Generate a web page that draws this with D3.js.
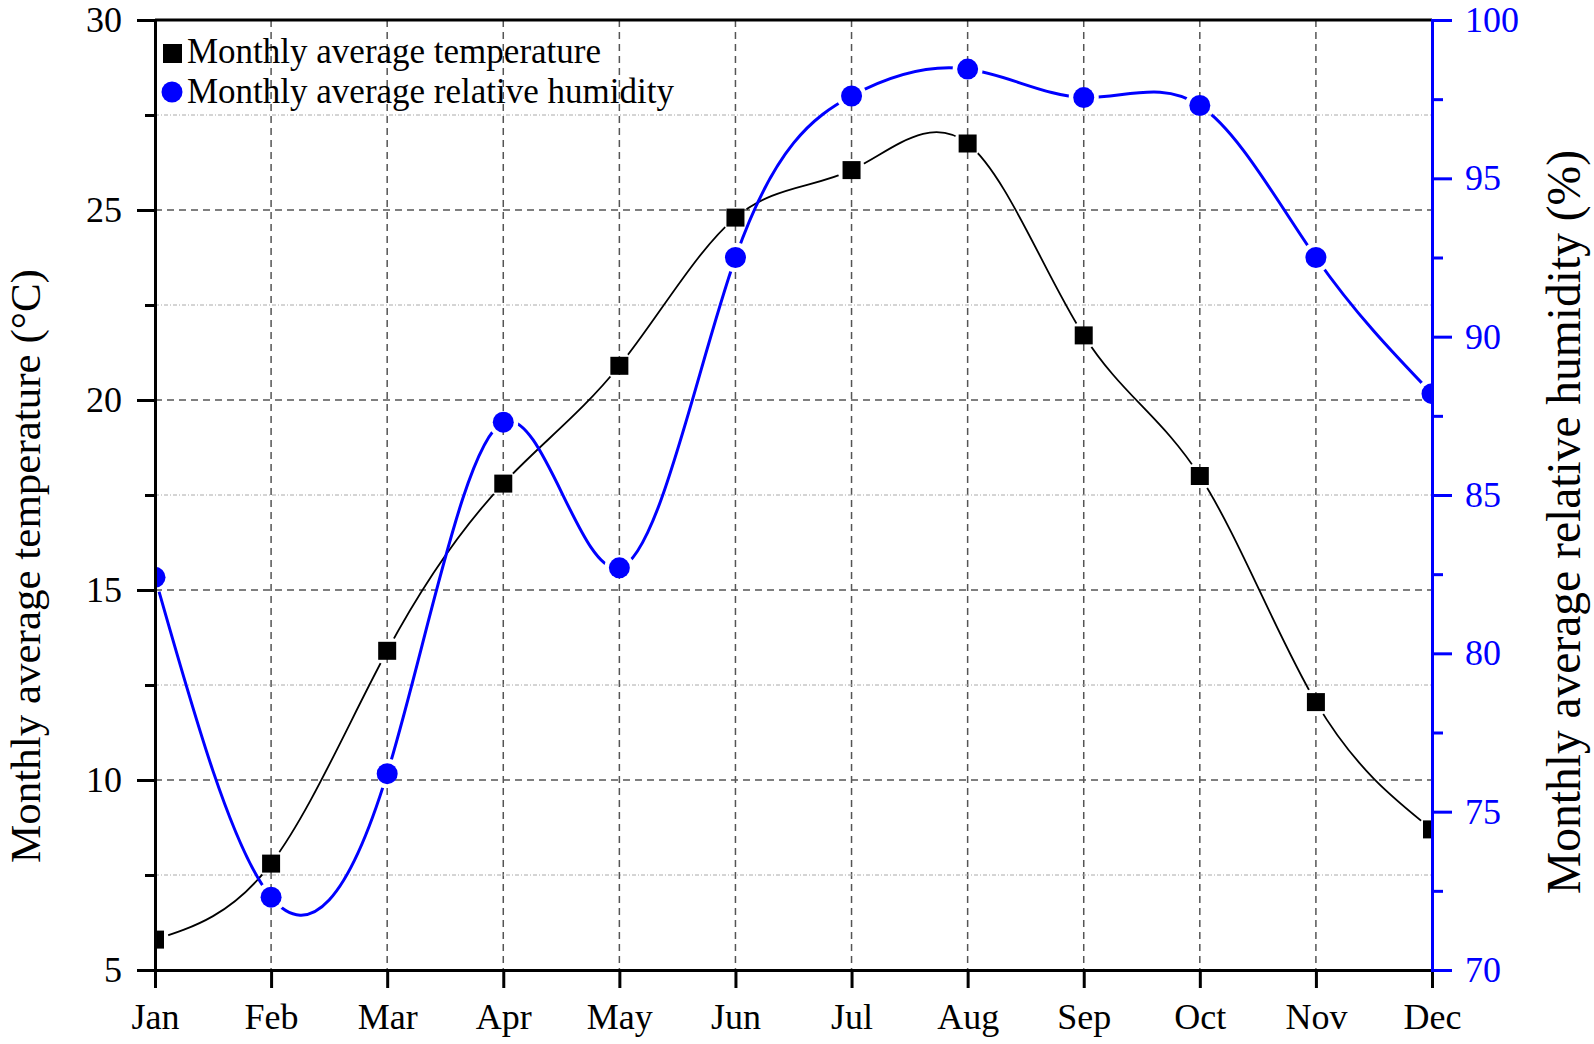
<!DOCTYPE html>
<html><head><meta charset="utf-8">
<script src="https://cdn.jsdelivr.net/npm/d3@7"></script>
<style>body{margin:0;background:#fff}svg{display:block}text{font-family:"Liberation Serif","Times New Roman",serif}</style>
</head><body><svg id="c" width="1594" height="1044"></svg>
<script>
const months = ["Jan","Feb","Mar","Apr","May","Jun","Jul","Aug","Sep","Oct","Nov","Dec"];
const temperature = [5.8,7.8,13.4,17.8,20.9,24.8,26.05,26.75,21.7,18.0,12.05,8.7];
const humidity = [82.4,72.3,76.2,87.3,82.7,92.5,97.6,98.45,97.55,97.3,92.5,88.2];
const leftTicks = [5,10,15,20,25,30];
const leftMinor = [7.5,12.5,17.5,22.5,27.5];
const rightTicks = [70,75,80,85,90,95,100];
const rightMinor = [72.5,77.5,82.5,87.5,92.5,97.5];
const legendLabels = ["Monthly average temperature","Monthly average relative humidity"];
const titleLeft = "Monthly average temperature (°C)";
const titleRight = "Monthly average relative humidity (%)";

const svg = d3.select("#c");
const L=155,R=1432,T=20,B=970;
const x = d3.scalePoint().domain(months).range([L,R]);
const yL = d3.scaleLinear().domain([5,30]).range([B,T]);
const yR = d3.scaleLinear().domain([70,100]).range([B,T]);
const BLUE="#0000ff";

const defs = svg.append("defs");
defs.append("clipPath").attr("id","plot").append("rect").attr("x",L).attr("y",T).attr("width",R-L).attr("height",B-T);

// grid
const g = svg.append("g");
g.selectAll(".vg").data(months.slice(1,-1)).join("line")
  .attr("x1",d=>x(d)).attr("x2",d=>x(d)).attr("y1",T).attr("y2",B)
  .attr("stroke","#555").attr("stroke-width",1.5).attr("stroke-dasharray","7,5");
g.selectAll(".hg").data(leftTicks.slice(1,-1)).join("line")
  .attr("x1",L).attr("x2",R).attr("y1",d=>yL(d)).attr("y2",d=>yL(d))
  .attr("stroke","#555").attr("stroke-width",1.5).attr("stroke-dasharray","7,5");
g.selectAll(".hm").data(leftMinor).join("line")
  .attr("x1",L).attr("x2",R).attr("y1",d=>yL(d)).attr("y2",d=>yL(d))
  .attr("stroke","#aaa").attr("stroke-width",1).attr("stroke-dasharray","4,2,1,2");

// masks for line gaps
function mkMask(id, vals, ys, r){
  const m = defs.append("mask").attr("id",id).attr("maskUnits","userSpaceOnUse")
    .attr("x",0).attr("y",0).attr("width",1594).attr("height",1044);
  m.append("rect").attr("width",1594).attr("height",1044).attr("fill","#fff");
  m.selectAll("circle").data(vals).join("circle")
    .attr("cx",(d,i)=>x(months[i])).attr("cy",d=>ys(d)).attr("r",r).attr("fill","#000");
}
mkMask("mT",temperature,yL,14);
mkMask("mH",humidity,yR,15);

const plot = svg.append("g").attr("clip-path","url(#plot)");
const lineT = d3.line().x((d,i)=>x(months[i])).y(d=>yL(d)).curve(d3.curveNatural);
const lineH = d3.line().x((d,i)=>x(months[i])).y(d=>yR(d)).curve(d3.curveNatural);
plot.append("g").attr("mask","url(#mT)").append("path").attr("d",lineT(temperature))
  .attr("fill","none").attr("stroke","#000").attr("stroke-width",1.8);
plot.append("g").attr("mask","url(#mH)").append("path").attr("d",lineH(humidity))
  .attr("fill","none").attr("stroke",BLUE).attr("stroke-width",3);
plot.selectAll(".sq").data(temperature).join("rect")
  .attr("x",(d,i)=>x(months[i])-9).attr("y",d=>yL(d)-9).attr("width",18).attr("height",18).attr("fill","#000");
plot.selectAll(".ci").data(humidity).join("circle")
  .attr("cx",(d,i)=>x(months[i])).attr("cy",d=>yR(d)).attr("r",10.5).attr("fill",BLUE);

// axes
function styleAxis(sel,color,fs){
  sel.select(".domain").attr("stroke",color).attr("stroke-width",3);
  sel.selectAll(".tick line").attr("stroke",color).attr("stroke-width",3);
  sel.selectAll(".tick text").attr("fill",color).attr("font-size",fs).attr("font-family","Liberation Serif");
}
const axL = svg.append("g").attr("transform",`translate(${L},0)`)
  .call(d3.axisLeft(yL).tickValues(leftTicks).tickSize(18).tickSizeOuter(0).tickPadding(15).tickFormat(d3.format("d")));
styleAxis(axL,"#000",36);
const axLm = svg.append("g").attr("transform",`translate(${L},0)`)
  .call(d3.axisLeft(yL).tickValues(leftMinor).tickSize(10).tickSizeOuter(0).tickFormat(""));
styleAxis(axLm,"#000",36);
svg.append("line").attr("x1",L).attr("x2",R).attr("y1",T).attr("y2",T).attr("stroke","#000").attr("stroke-width",3);
const axB = svg.append("g").attr("transform",`translate(0,${B})`)
  .call(d3.axisBottom(x).tickSize(18).tickSizeOuter(0).tickPadding(15));
styleAxis(axB,"#000",36);
const axR = svg.append("g").attr("transform",`translate(${R},0)`)
  .call(d3.axisRight(yR).tickValues(rightTicks).tickSize(20).tickSizeOuter(0).tickPadding(13).tickFormat(d3.format("d")));
styleAxis(axR,BLUE,36);
const axRm = svg.append("g").attr("transform",`translate(${R},0)`)
  .call(d3.axisRight(yR).tickValues(rightMinor).tickSize(11).tickSizeOuter(0).tickFormat(""));
styleAxis(axRm,BLUE,36);
axR.select(".domain").attr("stroke-linecap","square");

// titles
svg.append("text").attr("transform",`translate(40,566) rotate(-90)`).attr("text-anchor","middle")
  .attr("font-size",43).attr("fill","#000").text(titleLeft);
svg.append("text").attr("transform",`translate(1580,522) rotate(-90)`).attr("text-anchor","middle")
  .attr("font-size",47.5).attr("fill","#000").text(titleRight);

// legend
const lg = svg.append("g");
lg.append("rect").attr("x",163).attr("y",44).attr("width",19).attr("height",19).attr("fill","#000");
lg.append("circle").attr("cx",172).attr("cy",92).attr("r",10.5).attr("fill",BLUE);
lg.selectAll("text").data(legendLabels).join("text")
  .attr("x",187).attr("y",(d,i)=>63+i*40).attr("font-size",35).attr("fill","#000").text(d=>d);
</script></body></html>
